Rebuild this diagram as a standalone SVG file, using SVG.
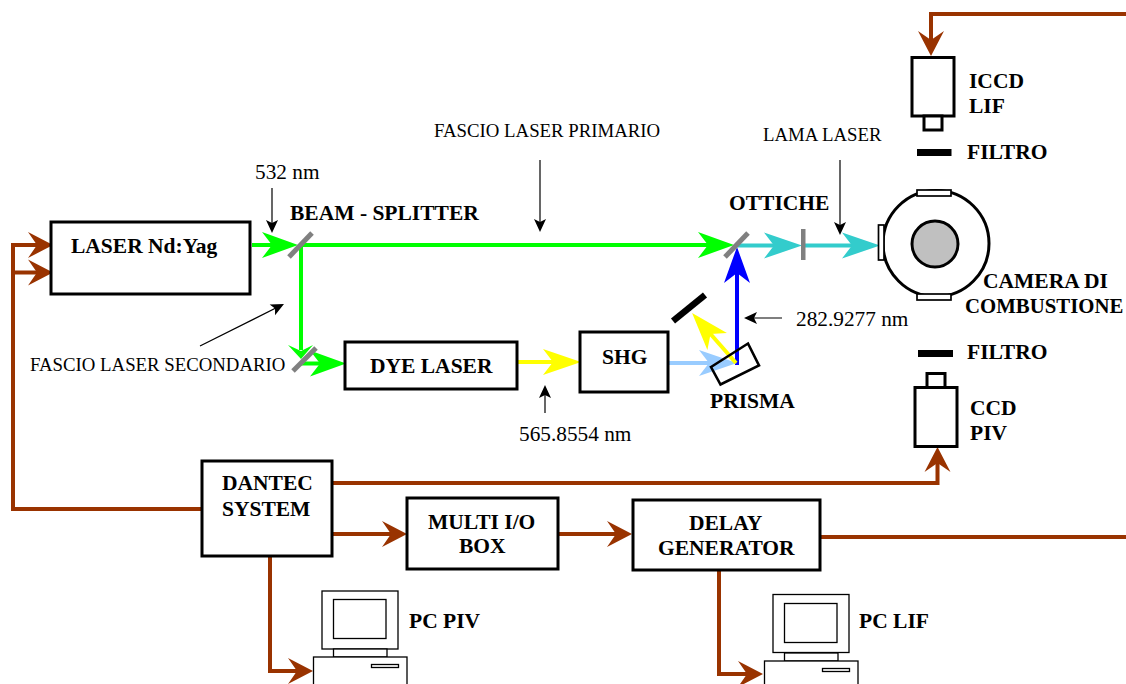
<svg xmlns="http://www.w3.org/2000/svg" width="1126" height="684" viewBox="0 0 1126 684">
<style>
text{font-family:"Liberation Serif","Times New Roman",serif;fill:#000}
.b{font-weight:bold;font-size:21.500px}
.n{font-size:18.800px}
.d{font-size:21.300px}
.box{fill:#fff;stroke:#000;stroke-width:3}
.pc{fill:#fff;stroke:#000;stroke-width:1.3}
.w{fill:#fff;stroke:#000;stroke-width:1.7}
.c{fill:none;stroke-linejoin:miter}
.br{stroke:#993300;stroke-width:4}
.gr{stroke:#00ff00;stroke-width:4}
.cy{stroke:#33cccc;stroke-width:4}
.bl{stroke:#0000ff;stroke-width:4}
.lb{stroke:#99ccff;stroke-width:4}
.ye{stroke:#ffff00;stroke-width:4}
.th{stroke:#000;stroke-width:1.2}
.gm{stroke:#808080;stroke-width:5;fill:none}
</style>
<defs>
<marker id="mbr" markerUnits="userSpaceOnUse" markerWidth="30" markerHeight="30" refX="15" refY="13" orient="auto" overflow="visible"><path d="M0 0L25 13L0 26L9 13Z" fill="#993300"/></marker>
<marker id="mgr" markerUnits="userSpaceOnUse" markerWidth="40" markerHeight="30" refX="26" refY="13" orient="auto" overflow="visible"><path d="M0 0L36 13L0 26L10 13Z" fill="#00ff00"/></marker>
<marker id="mcy" markerUnits="userSpaceOnUse" markerWidth="40" markerHeight="30" refX="26" refY="13" orient="auto" overflow="visible"><path d="M0 0L38 13L0 26L10 13Z" fill="#33cccc"/></marker>
<marker id="mbl" markerUnits="userSpaceOnUse" markerWidth="40" markerHeight="30" refX="26" refY="13" orient="auto" overflow="visible"><path d="M0 0L36 13L0 26L10 13Z" fill="#0000ff"/></marker>
<marker id="mlb" markerUnits="userSpaceOnUse" markerWidth="40" markerHeight="30" refX="26" refY="13" orient="auto" overflow="visible"><path d="M0 0L38 13L0 26L10 13Z" fill="#99ccff"/></marker>
<marker id="mye" markerUnits="userSpaceOnUse" markerWidth="40" markerHeight="30" refX="26" refY="13" orient="auto" overflow="visible"><path d="M0 0L38 13L0 26L10 13Z" fill="#ffff00"/></marker>
<marker id="mth" markerUnits="userSpaceOnUse" markerWidth="14" markerHeight="14" refX="10" refY="6" orient="auto" overflow="visible"><path d="M0 0L13 6L0 12L3 6Z" fill="#000"/></marker>
</defs>
<g id="connectors">
<path class="c br" d="M1126 14H931V46" marker-end="url(#mbr)"/>
<path class="c br" d="M202 509H13V245H43" marker-end="url(#mbr)"/>
<path class="c br" d="M13 272.500H43" marker-end="url(#mbr)"/>
<path class="c br" d="M332 483H937.500V457" marker-end="url(#mbr)"/>
<path class="c br" d="M332 534H397" marker-end="url(#mbr)"/>
<path class="c br" d="M558 534H622" marker-end="url(#mbr)"/>
<path class="c br" d="M820 537H1126"/>
<path class="c br" d="M270 556V671H303" marker-end="url(#mbr)"/>
<path class="c br" d="M719 570V674H753" marker-end="url(#mbr)"/>
<path class="c gr" d="M252 245H288" marker-end="url(#mgr)"/>
<path class="c gr" d="M300 245H724" marker-end="url(#mgr)"/>
<path class="c gr" d="M301 245V350"/>
<path class="c gr" d="M301 363.500H336" marker-end="url(#mgr)"/>
<path class="c cy" d="M738 245.500H790" marker-end="url(#mcy)"/>
<path class="c cy" d="M804 245.500H868" marker-end="url(#mcy)"/>
<path class="c bl" d="M737 365V257" marker-end="url(#mbl)"/>
<path class="c lb" d="M668 363H725" marker-end="url(#mlb)"/>
<path class="c ye" d="M517 362H569" marker-end="url(#mye)"/>
<path class="c ye" d="M736 363L700 322" marker-end="url(#mye)"/>
<path class="c th" d="M272 188V230" marker-end="url(#mth)"/>
<path class="c th" d="M540 160V229" marker-end="url(#mth)"/>
<path class="c th" d="M840 160V232" marker-end="url(#mth)"/>
<path class="c th" d="M200 346L281.300 305.300" marker-end="url(#mth)"/>
<path class="c th" d="M782 318H747" marker-end="url(#mth)"/>
<path class="c th" d="M545 413V388" marker-end="url(#mth)"/>
<path d="M288 345L301 359L313 345L301 351Z" fill="#00ff00"/>
</g>
<g id="laser"><rect class="box" x="51" y="222" width="199" height="72"/><text class="b" x="71" y="253">LASER Nd:Yag</text></g>
<g id="beam-splitter"><path class="gm" d="M289 257L312 233"/><text class="b" x="290" y="220">BEAM - SPLITTER</text></g>
<g id="mirror-2"><path class="gm" d="M293 371L316 348"/></g>
<g id="dye-laser"><rect class="box" x="345" y="342" width="172" height="47"/><text class="b" x="370" y="373">DYE LASER</text></g>
<g id="shg"><rect class="box" x="580" y="332" width="88" height="60"/><text class="b" x="602" y="364">SHG</text></g>
<g id="prisma"><path d="M711 367L748 343.500L759 365.500L720.500 384.500Z" fill="none" stroke="#000" stroke-width="2.600"/><text class="b" x="710" y="408">PRISMA</text></g>
<g id="mirror-black"><path d="M673 321L705 295" stroke="#000" stroke-width="6.500" fill="none"/></g>
<g id="otticche"><path class="gm" d="M725 257L748 233"/><text class="b" x="729" y="210">OTTICHE</text></g>
<g id="lens"><rect x="801" y="229" width="4.500" height="31" fill="#808080"/></g>
<g id="camera">
<circle cx="936" cy="243.500" r="53" fill="#fff" stroke="#000" stroke-width="3"/>
<circle cx="935" cy="244" r="23" fill="#c0c0c0" stroke="#000" stroke-width="3"/>
<rect class="w" x="917" y="190" width="34" height="6"/>
<rect class="w" x="917" y="294" width="34" height="6"/>
<rect class="w" x="878.500" y="225" width="5.500" height="35"/>
<text class="b" x="983" y="288">CAMERA DI</text>
<text class="b" x="965" y="313" style="font-size:20.800px">COMBUSTIONE</text>
</g>
<g id="iccd"><rect class="box" x="912" y="57.500" width="42" height="58.500"/><rect class="box" x="924" y="116" width="18" height="14"/><text class="b" x="969" y="88">ICCD</text><text class="b" x="969" y="113">LIF</text></g>
<g id="filtro-1"><rect x="917" y="149" width="34.500" height="7"/><text class="b" x="967" y="159">FILTRO</text></g>
<g id="filtro-2"><rect x="918" y="350" width="35" height="7"/><text class="b" x="967" y="359">FILTRO</text></g>
<g id="ccd"><rect class="box" x="927" y="373.500" width="18" height="14"/><rect class="box" x="915" y="387.500" width="42" height="59"/><text class="b" x="970" y="415">CCD</text><text class="b" x="970" y="440">PIV</text></g>
<g id="dantec"><rect class="box" x="202" y="461" width="130" height="95"/><text class="b" x="222" y="490">DANTEC</text><text class="b" x="222" y="516">SYSTEM</text></g>
<g id="multi"><rect class="box" x="407" y="498" width="151" height="71"/><text class="b" x="428" y="529">MULTI I/O</text><text class="b" x="459" y="553">BOX</text></g>
<g id="delay"><rect class="box" x="633" y="500" width="187" height="70"/><text class="b" x="689" y="530">DELAY</text><text class="b" x="658" y="555">GENERATOR</text></g>
<g id="pc-piv"><rect class="pc" x="322" y="591" width="76" height="58"/><rect class="pc" x="333.500" y="599.500" width="52.500" height="39"/><rect class="pc" x="333.500" y="649" width="53.500" height="8"/><rect class="pc" x="313.500" y="657" width="93.500" height="30"/><rect class="pc" x="371.500" y="664.500" width="27" height="3"/><text class="b" x="409" y="628">PC PIV</text></g>
<g id="pc-lif"><rect class="pc" x="773" y="594.500" width="76" height="58"/><rect class="pc" x="784.500" y="603.500" width="52.500" height="39"/><rect class="pc" x="784.500" y="653" width="53.500" height="8"/><rect class="pc" x="764.500" y="661" width="93.500" height="30"/><rect class="pc" x="822.500" y="668.500" width="27" height="3"/><text class="b" x="859" y="628">PC LIF</text></g>
<g id="labels">
<text class="n" x="434" y="137">FASCIO LASER PRIMARIO</text>
<text class="n" x="763" y="141">LAMA LASER</text>
<text class="d" x="255" y="179">532 nm</text>
<text class="n" x="30" y="371">FASCIO LASER SECONDARIO</text>
<text class="d" x="796" y="326">282.9277 nm</text>
<text class="d" x="519" y="441">565.8554 nm</text>
</g>
</svg>
